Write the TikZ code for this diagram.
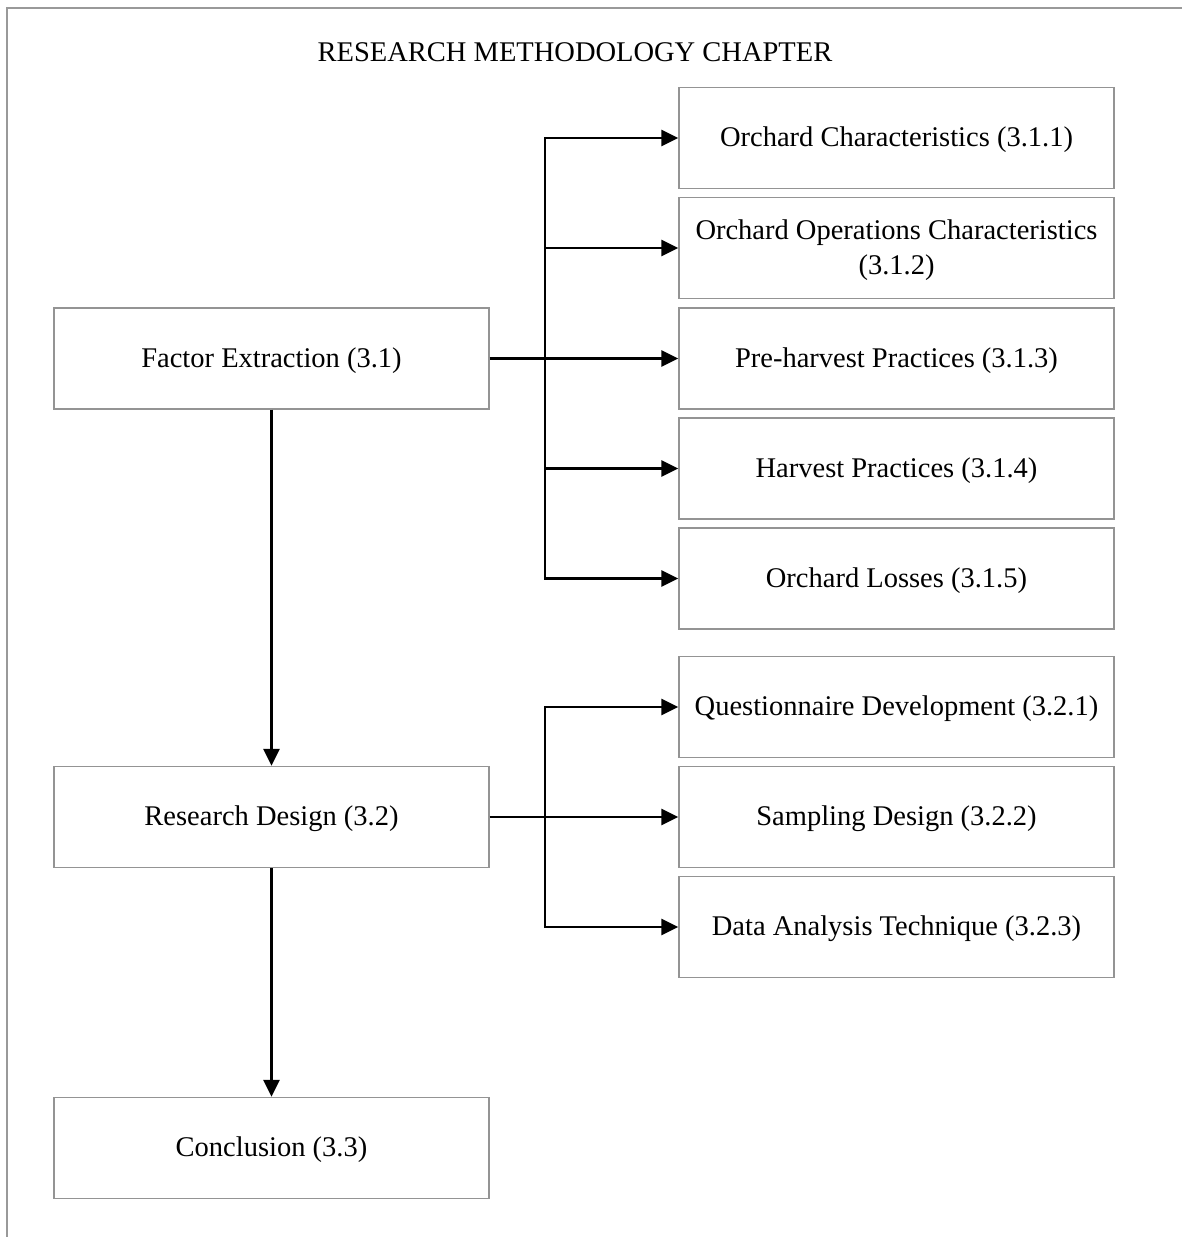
\documentclass[tikz,border=0pt]{standalone}
\usepackage{fontspec}
\setmainfont{Liberation Serif}
\usetikzlibrary{arrows.meta}
\begin{document}
\begin{tikzpicture}[x=1pt,y=-1pt,
  box/.style={draw=black!42, line width=1.4pt, minimum width=435pt, minimum height=101pt,
    inner sep=0pt, align=center, font=\fontsize{28.5}{35}\selectfont},
  oneline/.style={box, text height=24pt},
  arr/.style={line width=2.6pt, -{Triangle[length=17pt,width=16pt]}}]
\useasboundingbox (0,0) rectangle (1182,1237);
% page frame
\draw[black!40, line width=2pt] (7,1237) -- (7,8) -- (1182,8);
% title
\node[font=\fontsize{28.5}{34}\selectfont] (title) at (575,52) {RESEARCH METHODOLOGY CHAPTER};
% left column
\node[oneline] (fe) at (271.5,358.5) {Factor Extraction (3.1)};
\node[oneline] (rd) at (271.5,817) {Research Design (3.2)};
\node[oneline] (cc) at (271.5,1148) {Conclusion (3.3)};
% factor extraction branches
\node[oneline] (a1) at (896.5,138) {Orchard Characteristics (3.1.1)};
\node[box] (a2) at (896.5,248) {\rule{0pt}{24pt}Orchard Operations Characteristics\\(3.1.2)};
\node[oneline] (a3) at (896.5,358.5) {Pre-harvest Practices (3.1.3)};
\node[oneline] (a4) at (896.5,468.5) {Harvest Practices (3.1.4)};
\node[oneline] (a5) at (896.5,578.5) {Orchard Losses (3.1.5)};
% research design branches
\node[oneline] (b1) at (896.5,707) {Questionnaire Development (3.2.1)};
\node[oneline] (b2) at (896.5,817) {Sampling Design (3.2.2)};
\node[oneline] (b3) at (896.5,927) {Data Analysis Technique (3.2.3)};
% bus junctions
\coordinate (ja) at (545,358.5);
\coordinate (jb) at (545,817);
% connectors
\draw[arr] (fe.east) -- (a3.west);
\draw[arr] (ja) |- (a1.west);
\draw[arr] (ja) |- (a2.west);
\draw[arr] (ja) |- (a4.west);
\draw[arr] (ja) |- (a5.west);
\draw[arr] (rd.east) -- (b2.west);
\draw[arr] (jb) |- (b1.west);
\draw[arr] (jb) |- (b3.west);
\draw[arr] (fe.south) -- (rd.north);
\draw[arr] (rd.south) -- (cc.north);
\end{tikzpicture}
\end{document}
